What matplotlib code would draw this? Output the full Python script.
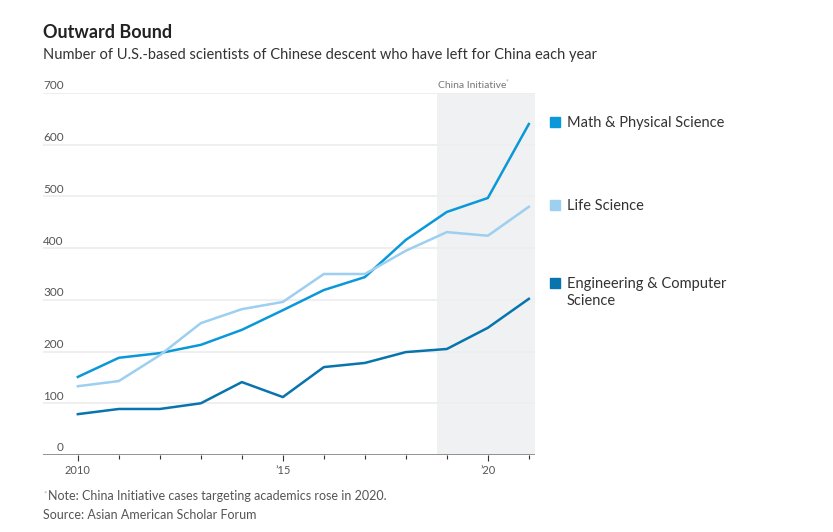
import matplotlib.pyplot as plt
from matplotlib.transforms import blended_transform_factory

plt.rcParams['font.family'] = ['Lato', 'DejaVu Sans']

years = list(range(2010, 2022))
math_phys = [151, 188, 197, 213, 242, 280, 319, 344, 416, 470, 497, 640]
life_sci = [133, 143, 193, 255, 282, 296, 350, 350, 395, 431, 424, 480]
eng_cs = [79, 89, 89, 100, 141, 112, 170, 178, 199, 205, 246, 302]
series_names = ['Math & Physical Science', 'Life Science', 'Engineering & Computer\nScience']
colors = ['#0a98d8', '#9ccff0', '#0874ad']
y_ticks = [0, 100, 200, 300, 400, 500, 600, 700]
x_ticks = [2010, 2015, 2020]
x_labels = ['2010', '\u201915', '\u201920']

fig = plt.figure(figsize=(8.33, 5.32), dpi=100)
ax = fig.add_axes([43 / 833, 77 / 532, 492 / 833, 362 / 532])
ax.set_xlim(2009.15, 2021.15)
ax.set_ylim(0, 700)

# shaded China Initiative period
ax.axvspan(2018.75, 2021.15, color='#f0f1f2', zorder=0, lw=0)
ax.text(2018.78, 706, 'China Initiative', fontsize=7.5, color='#777777', va='bottom', ha='left')
ax.text(2020.44, 714, '*', fontsize=5, color='#aaaaaa', va='bottom', ha='left')

# grid lines and labels
tr = blended_transform_factory(ax.transAxes, ax.transData)
for t in y_ticks:
    if t == 0:
        continue
    ax.axhline(t, color='#eeeeee', lw=1.3, zorder=1)
for t in y_ticks:
    ax.text(0.0 if t != 0 else 0.028, t + 3, str(t), transform=tr, fontsize=8.5,
            color='#555555', ha='left', va='bottom')
ax.axhline(0, color='#888888', lw=2, zorder=3)

for vals, c in zip([math_phys, life_sci, eng_cs], colors):
    ax.plot(years, vals, color=c, lw=1.8, zorder=4)

for s in ax.spines.values():
    s.set_visible(False)
ax.set_yticks([])
ax.set_xticks(years, minor=True)
ax.set_xticks(x_ticks)
ax.set_xticklabels(x_labels, fontsize=8, color='#555555')
ax.tick_params(axis='x', which='both', length=4, width=0.8, color='#333333', pad=3)
ax.tick_params(axis='x', which='minor', length=3)

# legend, placed by hand
legend_y = [122, 205, 283]
for name, c, ly in zip(series_names, colors, legend_y):
    fig.patches.append(plt.Rectangle((550 / 833, 1 - (ly + 5) / 532), 10 / 833, 10 / 532,
                                     transform=fig.transFigure, color=c))
    fig.text(567 / 833, 1 - (ly - 6) / 532, name, fontsize=10.5, color='#333333', va='top',
             ha='left', linespacing=1.25)

fig.text(43 / 833, 1 - 33 / 532, 'Outward Bound', fontsize=13, fontweight='bold', color='#222222', va='center')
fig.text(43 / 833, 1 - 55 / 532, 'Number of U.S.-based scientists of Chinese descent who have left for China each year',
         fontsize=10.5, color='#333333', va='center')
fig.text(43 / 833, 1 - 494 / 532, '*', fontsize=6, color='#aaaaaa', va='center')
fig.text(48 / 833, 1 - 496 / 532, 'Note: China Initiative cases targeting academics rose in 2020.',
         fontsize=9, color='#555555', va='center')
fig.text(43 / 833, 1 - 515 / 532, 'Source: Asian American Scholar Forum', fontsize=9, color='#555555', va='center')

fig.savefig('out.png', dpi=100)
